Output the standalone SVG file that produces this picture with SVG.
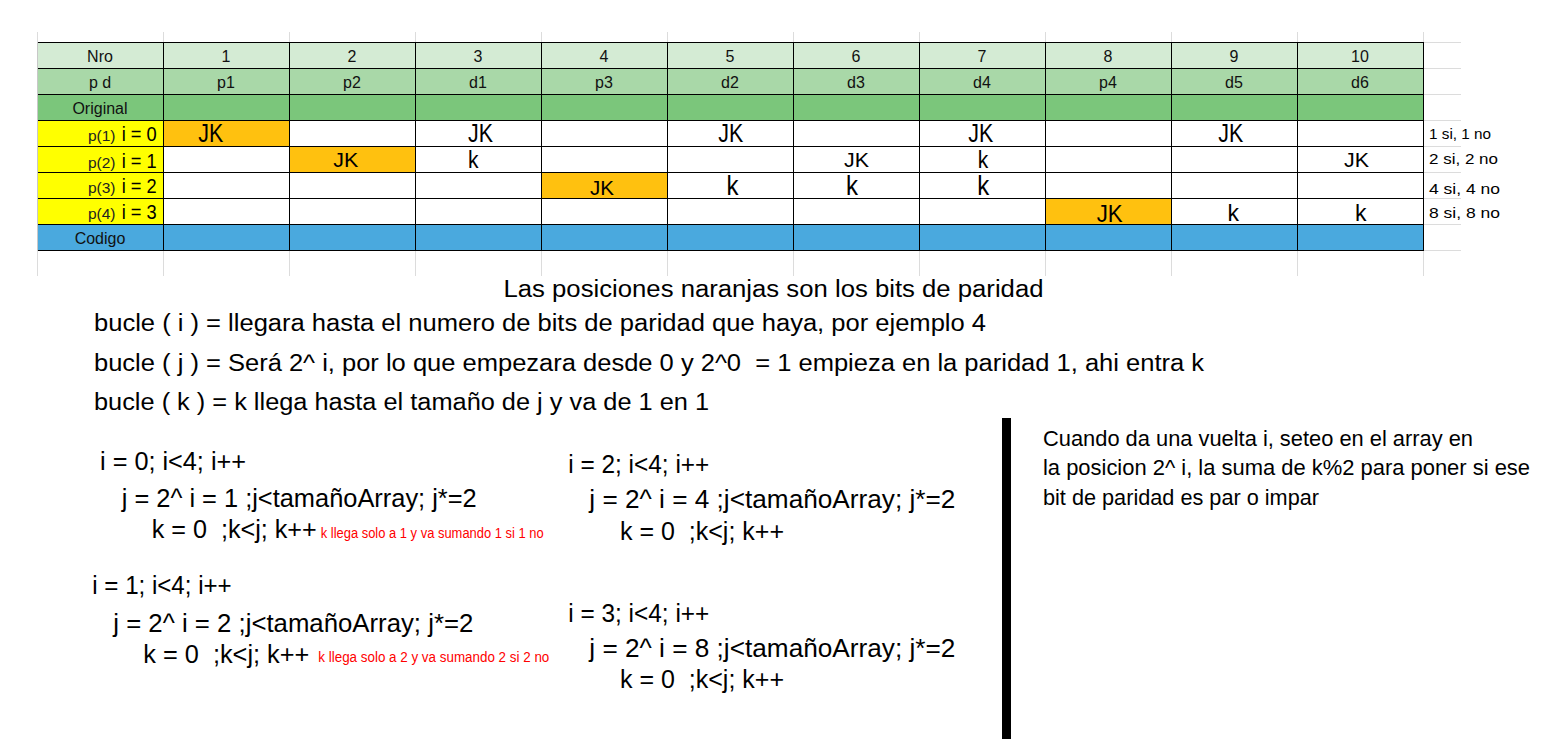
<svg xmlns="http://www.w3.org/2000/svg" width="1546" height="750" viewBox="0 0 1546 750">
<style>
text{font-family:"Liberation Sans",Arial,sans-serif;fill:#000}
.hd{font-size:16px;text-anchor:middle;fill:#111}
.lbs{font-size:15.5px;text-anchor:end;fill:#222}
.lbb{font-size:21px}
.jk{text-anchor:middle}
.side{font-size:15.5px}
.big{font-size:23px}
.code{font-size:26px}
.red{font-size:14px;fill:#ff0000}
.note{font-size:22px}
.grid{stroke:#000;stroke-width:1;fill:none}
.light{stroke:#dcdcdc;stroke-width:1;fill:none}
</style>
<rect width="1546" height="750" fill="#fff"/>
<g id="sheet-grid">
<path class="light" d="M37.5 32V276M163.5 32V276M289.5 32V276M415.5 32V276M541.5 32V276M667.5 32V276M793.5 32V276M919.5 32V276M1045.5 32V276M1171.5 32V276M1297.5 32V276M1423.5 32V276"/>
<path class="light" d="M1423 42.5H1461M1423 68.5H1461M1423 94.5H1461M1423 120.5H1461M1423 146.5H1461M1423 172.5H1461M1423 198.5H1461M1423 224.5H1461M1423 250.5H1461"/>
</g>
<g id="table">
<rect x="37" y="42" width="1386" height="26" fill="#d4ebd4"/>
<rect x="37" y="68" width="1386" height="26" fill="#a9d8a8"/>
<rect x="37" y="94" width="1386" height="26" fill="#7bc67b"/>
<rect x="37" y="120" width="126" height="104" fill="#ffff00"/>
<rect x="163" y="120" width="126" height="26" fill="#ffc10f"/>
<rect x="289" y="146" width="126" height="26" fill="#ffc10f"/>
<rect x="541" y="172" width="126" height="26" fill="#ffc10f"/>
<rect x="1045" y="198" width="126" height="26" fill="#ffc10f"/>
<rect x="37" y="224" width="1386" height="26" fill="#4aa9de"/>
<path class="grid" d="M37 42.5H1423.5M37 68.5H1423.5M37 94.5H1423.5M37 120.5H1423.5M37 146.5H1423.5M37 172.5H1423.5M37 198.5H1423.5M37 224.5H1423.5M37 250.5H1423.5"/>
<path class="grid" d="M163.5 42V251M289.5 42V251M415.5 42V251M541.5 42V251M667.5 42V251M793.5 42V251M919.5 42V251M1045.5 42V251M1171.5 42V251M1297.5 42V251M1423.5 42V251"/>
<path d="M37.5 42V251" stroke="#c8c8c8" stroke-width="1"/>
<g id="row-nro">
<text class="hd" x="100" y="61.5">Nro</text>
<text class="hd" x="226" y="61.5">1</text>
<text class="hd" x="352" y="61.5">2</text>
<text class="hd" x="478" y="61.5">3</text>
<text class="hd" x="604" y="61.5">4</text>
<text class="hd" x="730" y="61.5">5</text>
<text class="hd" x="856" y="61.5">6</text>
<text class="hd" x="982" y="61.5">7</text>
<text class="hd" x="1108" y="61.5">8</text>
<text class="hd" x="1234" y="61.5">9</text>
<text class="hd" x="1360" y="61.5">10</text>
</g>
<g id="row-pd">
<text class="hd" x="100" y="87.5">p d</text>
<text class="hd" x="226" y="87.5">p1</text>
<text class="hd" x="352" y="87.5">p2</text>
<text class="hd" x="478" y="87.5">d1</text>
<text class="hd" x="604" y="87.5">p3</text>
<text class="hd" x="730" y="87.5">d2</text>
<text class="hd" x="856" y="87.5">d3</text>
<text class="hd" x="982" y="87.5">d4</text>
<text class="hd" x="1108" y="87.5">p4</text>
<text class="hd" x="1234" y="87.5">d5</text>
<text class="hd" x="1360" y="87.5">d6</text>
</g>
<g id="row-original"><text class="hd" x="100" y="113.5">Original</text></g>
<g id="row-p1">
<text class="lbs" x="115.5" y="141">p(1)</text>
<text class="lbb" x="121.7" y="141" textLength="35" lengthAdjust="spacingAndGlyphs">i = 0</text>
<text class="jk" x="210.8" y="141.7" font-size="25" textLength="25" lengthAdjust="spacingAndGlyphs">JK</text>
<text class="jk" x="480.5" y="141.7" font-size="25" textLength="25" lengthAdjust="spacingAndGlyphs">JK</text>
<text class="jk" x="730.8" y="141.7" font-size="25" textLength="25" lengthAdjust="spacingAndGlyphs">JK</text>
<text class="jk" x="980.8" y="141.7" font-size="25" textLength="25" lengthAdjust="spacingAndGlyphs">JK</text>
<text class="jk" x="1230.8" y="141.7" font-size="25" textLength="25" lengthAdjust="spacingAndGlyphs">JK</text>
</g>
<g id="row-p2">
<text class="lbs" x="115.5" y="167.5">p(2)</text>
<text class="lbb" x="121.7" y="167.5" textLength="35" lengthAdjust="spacingAndGlyphs">i = 1</text>
<text class="jk" x="345.8" y="166.7" font-size="20" textLength="25" lengthAdjust="spacingAndGlyphs">JK</text>
<text class="jk" x="473.3" y="168.3" font-size="23" textLength="10.5" lengthAdjust="spacingAndGlyphs">k</text>
<text class="jk" x="856.5" y="166.7" font-size="20" textLength="25" lengthAdjust="spacingAndGlyphs">JK</text>
<text class="jk" x="983" y="168.3" font-size="23" textLength="10.5" lengthAdjust="spacingAndGlyphs">k</text>
<text class="jk" x="1356.5" y="166.7" font-size="20" textLength="25" lengthAdjust="spacingAndGlyphs">JK</text>
</g>
<g id="row-p3">
<text class="lbs" x="115.5" y="193">p(3)</text>
<text class="lbb" x="121.7" y="193" textLength="35" lengthAdjust="spacingAndGlyphs">i = 2</text>
<text class="jk" x="602" y="195" font-size="21" textLength="24" lengthAdjust="spacingAndGlyphs">JK</text>
<text class="jk" x="732.5" y="195" font-size="27" textLength="12" lengthAdjust="spacingAndGlyphs">k</text>
<text class="jk" x="852" y="195" font-size="27" textLength="12" lengthAdjust="spacingAndGlyphs">k</text>
<text class="jk" x="983.3" y="195" font-size="27" textLength="12" lengthAdjust="spacingAndGlyphs">k</text>
</g>
<g id="row-p4">
<text class="lbs" x="115.5" y="218.5">p(4)</text>
<text class="lbb" x="121.7" y="218.5" textLength="35" lengthAdjust="spacingAndGlyphs">i = 3</text>
<text class="jk" x="1109.7" y="221.7" font-size="23" textLength="26" lengthAdjust="spacingAndGlyphs">JK</text>
<text class="jk" x="1233.3" y="221" font-size="24" textLength="11.5" lengthAdjust="spacingAndGlyphs">k</text>
<text class="jk" x="1360.8" y="221" font-size="24" textLength="11.5" lengthAdjust="spacingAndGlyphs">k</text>
</g>
<g id="row-codigo"><text class="hd" x="100" y="243.5">Codigo</text></g>
</g>
<g id="side-counts">
<text class="side" x="1429" y="139" textLength="62" lengthAdjust="spacingAndGlyphs">1 si, 1 no</text>
<text class="side" x="1429" y="164" textLength="69" lengthAdjust="spacingAndGlyphs">2 si, 2 no</text>
<text class="side" x="1429" y="193.5" textLength="71" lengthAdjust="spacingAndGlyphs">4 si, 4 no</text>
<text class="side" x="1429" y="218" textLength="71" lengthAdjust="spacingAndGlyphs">8 si, 8 no</text>
</g>
<g id="explanation">
<text class="big" x="503.5" y="297" textLength="540" lengthAdjust="spacingAndGlyphs">Las posiciones naranjas son los bits de paridad</text>
<text class="big" x="94" y="331" textLength="892" lengthAdjust="spacingAndGlyphs">bucle ( i ) = llegara hasta el numero de bits de paridad que haya, por ejemplo 4</text>
<text class="big" x="94" y="370.5" textLength="1110" lengthAdjust="spacingAndGlyphs" xml:space="preserve">bucle ( j ) = Será 2^ i, por lo que empezara desde 0 y 2^0  = 1 empieza en la paridad 1, ahi entra k</text>
<text class="big" x="94" y="410" textLength="615" lengthAdjust="spacingAndGlyphs">bucle ( k ) = k llega hasta el tamaño de j y va de 1 en 1</text>
</g>
<g id="loop-i0">
<text class="code" x="100" y="470" textLength="146" lengthAdjust="spacingAndGlyphs">i = 0; i&lt;4; i++</text>
<text class="code" x="121.7" y="507.3" textLength="355" lengthAdjust="spacingAndGlyphs">j = 2^ i = 1 ;j&lt;tamañoArray; j*=2</text>
<text class="code" x="151.7" y="538.3" textLength="165" lengthAdjust="spacingAndGlyphs" xml:space="preserve">k = 0  ;k&lt;j; k++</text>
<text class="red" x="320.7" y="537.5" textLength="223" lengthAdjust="spacingAndGlyphs">k llega solo a 1 y va sumando 1 si 1 no</text>
</g>
<g id="loop-i1">
<text class="code" x="92.3" y="594.3" textLength="139.4" lengthAdjust="spacingAndGlyphs">i = 1; i&lt;4; i++</text>
<text class="code" x="113.3" y="631.7" textLength="360" lengthAdjust="spacingAndGlyphs">j = 2^ i = 2 ;j&lt;tamañoArray; j*=2</text>
<text class="code" x="143.3" y="663.3" textLength="166" lengthAdjust="spacingAndGlyphs" xml:space="preserve">k = 0  ;k&lt;j; k++</text>
<text class="red" x="318.3" y="662" textLength="231" lengthAdjust="spacingAndGlyphs">k llega solo a 2 y va sumando 2 si 2 no</text>
</g>
<g id="loop-i2">
<text class="code" x="568.3" y="473.3" textLength="141" lengthAdjust="spacingAndGlyphs">i = 2; i&lt;4; i++</text>
<text class="code" x="589.3" y="508.3" textLength="366" lengthAdjust="spacingAndGlyphs">j = 2^ i = 4 ;j&lt;tamañoArray; j*=2</text>
<text class="code" x="620" y="540" textLength="164" lengthAdjust="spacingAndGlyphs" xml:space="preserve">k = 0  ;k&lt;j; k++</text>
</g>
<g id="loop-i3">
<text class="code" x="568.3" y="621.7" textLength="141" lengthAdjust="spacingAndGlyphs">i = 3; i&lt;4; i++</text>
<text class="code" x="589.3" y="656.7" textLength="366" lengthAdjust="spacingAndGlyphs">j = 2^ i = 8 ;j&lt;tamañoArray; j*=2</text>
<text class="code" x="620" y="688.3" textLength="164" lengthAdjust="spacingAndGlyphs" xml:space="preserve">k = 0  ;k&lt;j; k++</text>
</g>
<g id="divider"><rect x="1002" y="418" width="9" height="321" fill="#000"/></g>
<g id="note">
<text class="note" x="1043" y="446" textLength="430" lengthAdjust="spacingAndGlyphs">Cuando da una vuelta i, seteo en el array en</text>
<text class="note" x="1043" y="475" textLength="487" lengthAdjust="spacingAndGlyphs">la posicion 2^ i, la suma de k%2 para poner si ese</text>
<text class="note" x="1043" y="505" textLength="276" lengthAdjust="spacingAndGlyphs">bit de paridad es par o impar</text>
</g>
</svg>
